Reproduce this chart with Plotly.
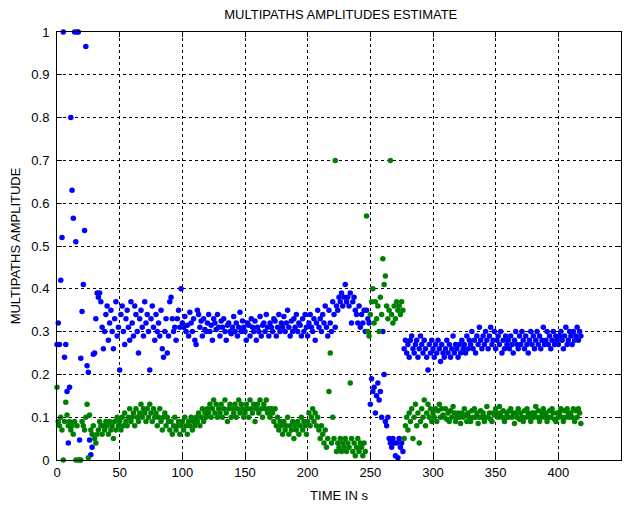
import plotly.graph_objects as go

time_s = list(range(0, 419))

path1_amp = [
    0.27, 0.32, 0.27, 0.42, 0.52, 1.00, 0.24, 0.27, 0.16, 0.04,
    0.17, 0.80, 0.63, 0.565, 1.00, 0.51, 1.00, 1.00, 0.047, 0.238,
    0.347, 0.41, 0.536, 0.966, 0.22, 0.205, 0.047, 0.012, 0.03, 0.247,
    0.25, 0.33, 0.39, 0.38, 0.39, 0.37, 0.31, 0.26, 0.30, 0.34,
    0.36, 0.28, 0.32, 0.35, 0.30, 0.26, 0.33, 0.37, 0.29, 0.31,
    0.21, 0.34, 0.36, 0.30, 0.27, 0.33, 0.35, 0.31, 0.28, 0.37,
    0.32, 0.29, 0.36, 0.34, 0.30, 0.25, 0.33, 0.35, 0.31, 0.29,
    0.37, 0.32, 0.34, 0.30, 0.21, 0.33, 0.36, 0.31, 0.28, 0.34,
    0.30, 0.32, 0.29, 0.35, 0.26, 0.24, 0.30, 0.33, 0.25, 0.29,
    0.37, 0.38, 0.33, 0.30, 0.31, 0.28, 0.33, 0.35, 0.31, 0.40,
    0.32, 0.31, 0.335, 0.30, 0.315, 0.29, 0.345, 0.32, 0.30, 0.33,
    0.28, 0.27, 0.35, 0.34, 0.31, 0.325, 0.29, 0.33, 0.305, 0.30,
    0.32, 0.34, 0.30, 0.315, 0.28, 0.33, 0.32, 0.305, 0.34, 0.31,
    0.29, 0.325, 0.31, 0.33, 0.30, 0.28, 0.315, 0.32, 0.30, 0.295,
    0.31, 0.335, 0.30, 0.32, 0.29, 0.31, 0.345, 0.30, 0.325, 0.31,
    0.30, 0.28, 0.32, 0.315, 0.29, 0.33, 0.31, 0.30, 0.325, 0.28,
    0.31, 0.30, 0.335, 0.29, 0.315, 0.32, 0.30, 0.34, 0.31, 0.29,
    0.32, 0.31, 0.30, 0.33, 0.325, 0.29, 0.31, 0.34, 0.30, 0.32,
    0.31, 0.335, 0.30, 0.32, 0.35, 0.31, 0.29, 0.325, 0.30, 0.33,
    0.31, 0.34, 0.30, 0.32, 0.315, 0.29, 0.33, 0.30, 0.34, 0.31,
    0.29, 0.32, 0.34, 0.31, 0.30, 0.33, 0.28, 0.32, 0.35, 0.31,
    0.33, 0.30, 0.34, 0.32, 0.36, 0.31, 0.29, 0.35, 0.32, 0.30,
    0.37, 0.34, 0.31, 0.36, 0.35, 0.38, 0.37, 0.39, 0.36, 0.38,
    0.41, 0.37, 0.38, 0.36, 0.39, 0.32, 0.37, 0.38, 0.35, 0.34,
    0.32, 0.36, 0.31, 0.34, 0.32, 0.35, 0.30, 0.35, 0.33, 0.32,
    0.13, 0.19, 0.16, 0.17, 0.11, 0.15, 0.18, 0.14, 0.16, 0.10,
    0.30, 0.20, 0.09, 0.08, 0.10, 0.05, 0.04, 0.03, 0.05, 0.04,
    0.01, 0.04, 0.005, 0.05, 0.03, 0.04, 0.02, 0.26, 0.28, 0.25,
    0.27, 0.24, 0.28, 0.29, 0.26, 0.25, 0.27, 0.28, 0.24, 0.26,
    0.29, 0.27, 0.25, 0.28, 0.26, 0.24, 0.21, 0.27, 0.25, 0.28,
    0.26, 0.24, 0.27, 0.25, 0.28, 0.26, 0.23, 0.27, 0.25, 0.24,
    0.26, 0.28, 0.25, 0.27, 0.24, 0.26, 0.29, 0.25, 0.27, 0.26,
    0.24, 0.27, 0.25, 0.28, 0.26, 0.27, 0.25, 0.29, 0.26, 0.28,
    0.27, 0.30, 0.26, 0.28, 0.25, 0.29, 0.27, 0.31, 0.28, 0.26,
    0.29, 0.27, 0.30, 0.28, 0.26, 0.29, 0.31, 0.27, 0.28, 0.30,
    0.26, 0.28, 0.29, 0.27, 0.30, 0.25, 0.28, 0.26, 0.29, 0.27,
    0.28, 0.26, 0.29, 0.27, 0.25, 0.28, 0.30, 0.27, 0.26, 0.29,
    0.27, 0.30, 0.28, 0.26, 0.29, 0.27, 0.25, 0.28, 0.30, 0.27,
    0.29, 0.26, 0.28, 0.30, 0.27, 0.29, 0.26, 0.28, 0.31, 0.27,
    0.28, 0.30, 0.27, 0.29, 0.26, 0.28, 0.30, 0.27, 0.29, 0.28,
    0.27, 0.29, 0.30, 0.28, 0.26, 0.29, 0.31, 0.27, 0.28, 0.30,
    0.29, 0.27, 0.30, 0.28, 0.29, 0.31, 0.28, 0.30, 0.29,
]

path2_amp = [
    0.17, 0.09, 0.08, 0.10, 0.07, 0.00, 0.09, 0.135, 0.105, 0.08,
    0.09, 0.07, 0.08, 0.06, 0.09, 0.00, 0.08, 0.00, 0.00, 0.00,
    0.09, 0.08, 0.07, 0.10, 0.13, 0.005, 0.105, 0.07, 0.06, 0.08,
    0.05, 0.04, 0.06, 0.07, 0.09, 0.08, 0.06, 0.08, 0.07, 0.09,
    0.08, 0.06, 0.09, 0.07, 0.08, 0.05, 0.09, 0.07, 0.10, 0.08,
    0.09, 0.07, 0.10, 0.08, 0.11, 0.09, 0.08, 0.10, 0.12, 0.09,
    0.10, 0.11, 0.08, 0.12, 0.10, 0.09, 0.11, 0.13, 0.10, 0.12,
    0.11, 0.09, 0.12, 0.10, 0.13, 0.11, 0.09, 0.12, 0.10, 0.11,
    0.08, 0.10, 0.12, 0.09, 0.07, 0.10, 0.11, 0.08, 0.10, 0.09,
    0.07, 0.09, 0.06, 0.08, 0.10, 0.07, 0.08, 0.09, 0.06, 0.08,
    0.09, 0.07, 0.10, 0.08, 0.06, 0.09, 0.08, 0.10, 0.07, 0.09,
    0.08, 0.10, 0.09, 0.11, 0.08, 0.10, 0.12, 0.09, 0.11, 0.10,
    0.12, 0.11, 0.13, 0.10, 0.12, 0.14, 0.11, 0.13, 0.10, 0.12,
    0.11, 0.13, 0.10, 0.12, 0.14, 0.11, 0.09, 0.12, 0.13, 0.10,
    0.12, 0.11, 0.13, 0.10, 0.12, 0.14, 0.11, 0.13, 0.12, 0.10,
    0.11, 0.13, 0.12, 0.10, 0.14, 0.12, 0.11, 0.13, 0.09, 0.12,
    0.13, 0.11, 0.14, 0.12, 0.10, 0.13, 0.12, 0.14, 0.11, 0.12,
    0.10, 0.12, 0.11, 0.09, 0.12, 0.08, 0.10, 0.07, 0.09, 0.08,
    0.06, 0.09, 0.07, 0.08, 0.10, 0.06, 0.08, 0.07, 0.09, 0.05,
    0.08, 0.07, 0.09, 0.06, 0.08, 0.10, 0.07, 0.09, 0.08, 0.06,
    0.09, 0.11, 0.08, 0.10, 0.12, 0.09, 0.11, 0.08, 0.10, 0.07,
    0.05, 0.08, 0.06, 0.04, 0.07, 0.03, 0.05, 0.16, 0.25, 0.04,
    0.10, 0.05, 0.70, 0.02, 0.04, 0.03, 0.05, 0.02, 0.04, 0.03,
    0.05, 0.02, 0.04, 0.03, 0.18, 0.05, 0.02, 0.04, 0.01, 0.03,
    0.05, 0.02, 0.04, 0.03, 0.01, 0.04, 0.02, 0.57, 0.30, 0.29,
    0.34, 0.37, 0.40, 0.32, 0.37, 0.33, 0.36, 0.30, 0.38, 0.34,
    0.47, 0.41, 0.43, 0.36, 0.33, 0.35, 0.70, 0.34, 0.32, 0.36,
    0.33, 0.37, 0.35, 0.36, 0.34, 0.37, 0.35, 0.05, 0.08, 0.10,
    0.07, 0.11, 0.09, 0.12, 0.05, 0.10, 0.13, 0.08, 0.11, 0.04,
    0.09, 0.12, 0.10, 0.14, 0.08, 0.11, 0.13, 0.10, 0.12, 0.09,
    0.11, 0.10, 0.12, 0.09, 0.115, 0.13, 0.10, 0.12, 0.105, 0.10,
    0.12, 0.095, 0.11, 0.09, 0.115, 0.10, 0.125, 0.11, 0.09, 0.10,
    0.11, 0.10, 0.085, 0.11, 0.10, 0.12, 0.105, 0.09, 0.11, 0.10,
    0.09, 0.115, 0.10, 0.12, 0.10, 0.11, 0.085, 0.10, 0.115, 0.10,
    0.11, 0.09, 0.10, 0.125, 0.10, 0.11, 0.095, 0.09, 0.11, 0.105,
    0.12, 0.11, 0.10, 0.125, 0.11, 0.10, 0.115, 0.09, 0.10, 0.11,
    0.10, 0.115, 0.12, 0.10, 0.11, 0.085, 0.11, 0.10, 0.12, 0.095,
    0.11, 0.10, 0.09, 0.115, 0.10, 0.12, 0.11, 0.10, 0.09, 0.11,
    0.10, 0.11, 0.125, 0.10, 0.115, 0.09, 0.10, 0.11, 0.12, 0.10,
    0.11, 0.09, 0.10, 0.115, 0.10, 0.12, 0.11, 0.095, 0.09, 0.11,
    0.10, 0.11, 0.12, 0.10, 0.09, 0.115, 0.10, 0.12, 0.11, 0.10,
    0.11, 0.10, 0.12, 0.09, 0.115, 0.10, 0.12, 0.11, 0.085,
]

x_ticks = [0, 50, 100, 150, 200, 250, 300, 350, 400, 450]
y_ticks = [0, 0.1, 0.2, 0.3, 0.4, 0.5, 0.6, 0.7, 0.8, 0.9, 1]
y_tick_text = ["0", "0.1", "0.2", "0.3", "0.4", "0.5", "0.6", "0.7", "0.8", "0.9", "1"]

FONT = "Liberation Sans, Arial, sans-serif"

fig = go.Figure()
fig.add_trace(go.Scatter(x=time_s, y=path1_amp, mode="markers",
                         marker=dict(color="#0000ff", size=5.5, line=dict(width=0)),
                         cliponaxis=False, showlegend=False))
fig.add_trace(go.Scatter(x=time_s, y=path2_amp, mode="markers",
                         marker=dict(color="#008000", size=5.5, line=dict(width=0)),
                         cliponaxis=False, showlegend=False))

axis_common = dict(showline=True, linecolor="black", linewidth=1, mirror="ticks",
                   ticks="inside", ticklen=5, tickcolor="black", automargin=False,
                   showgrid=True, gridcolor="black", gridwidth=1, griddash="dot",
                   zeroline=False, tickfont=dict(family=FONT, size=13, color="black"))

fig.update_xaxes(range=[0, 450], tickvals=x_ticks,
                 title=dict(text="TIME IN s", font=dict(family=FONT, size=13, color="black"), standoff=12),
                 **axis_common)
fig.update_yaxes(range=[0, 1], tickvals=y_ticks, ticktext=y_tick_text, ticklabelstandoff=4,
                 title=dict(text="MULTIPATHS AMPLITUDE", font=dict(family=FONT, size=13, color="black"), standoff=13),
                 **axis_common)

fig.update_layout(
    width=622, height=498,
    margin=dict(l=49, r=9, t=24, b=46),
    paper_bgcolor="white", plot_bgcolor="white",
    title=dict(text="MULTIPATHS AMPLITUDES ESTIMATE", x=0.535, xanchor="center",
               y=0.988, yanchor="middle",
               font=dict(family=FONT, size=13, color="black")),
)

fig.write_html("out.html")
